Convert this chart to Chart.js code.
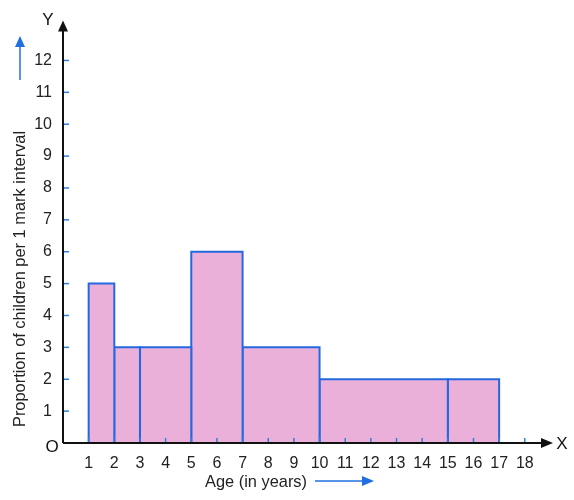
<!DOCTYPE html>
<html>
<head>
<meta charset="utf-8">
<script src="https://cdn.jsdelivr.net/npm/chart.js@4"></script>
<style>
  html, body { margin: 0; padding: 0; background: #fff; }
  #wrap { width: 574px; height: 500px; }
</style>
</head>
<body>
<div id="wrap"><canvas id="mychart"></canvas></div>
<script>
// class intervals (age in years) and heights (proportion per 1 mark interval)
const lowerEdges = [1, 2, 3, 5, 7, 10, 15];
const upperEdges = [2, 3, 5, 7, 10, 15, 17];
const heights = [5, 3, 3, 6, 3, 2, 2];
const xTickLabels = [1, 2, 3, 4, 5, 6, 7, 8, 9, 10, 11, 12, 13, 14, 15, 16, 17, 18];
const yTickLabels = [1, 2, 3, 4, 5, 6, 7, 8, 9, 10, 11, 12];

const fillColor = "#ebb0da";
const edgeColor = "#2468e0";
const tickBlue = "#2f80d8";
const font = "'Liberation Sans', Arial, sans-serif";

const datasets = lowerEdges.map((lo, i) => ({
  data: [
    { x: lo, y: 0 },
    { x: lo, y: heights[i] },
    { x: upperEdges[i], y: heights[i] },
    { x: upperEdges[i], y: 0 },
  ],
  tension: 0,
  fill: "origin",
  backgroundColor: fillColor,
  borderColor: edgeColor,
  borderWidth: 2,
  pointRadius: 0,
}));

function arrowHead(ctx, x, y, dir, len, half) {
  ctx.beginPath();
  if (dir === "up") {
    ctx.moveTo(x, y);
    ctx.lineTo(x - half, y + len);
    ctx.lineTo(x + half, y + len);
  } else {
    ctx.moveTo(x, y);
    ctx.lineTo(x - len, y - half);
    ctx.lineTo(x - len, y + half);
  }
  ctx.closePath();
  ctx.fill();
}

const axesPlugin = {
  id: "axesPlugin",
  afterDatasetsDraw(chart) {
    const ctx = chart.ctx;
    const xs = chart.scales.x;
    const ys = chart.scales.y;
    const area = chart.chartArea;
    const x0 = xs.getPixelForValue(0);
    const y0 = ys.getPixelForValue(0);
    ctx.save();

    // blue tick marks inside the axes
    ctx.strokeStyle = tickBlue;
    ctx.lineWidth = 1.5;
    xTickLabels.forEach((v) => {
      const px = xs.getPixelForValue(v);
      ctx.beginPath();
      ctx.moveTo(px, y0);
      ctx.lineTo(px, y0 - 5);
      ctx.stroke();
    });
    yTickLabels.forEach((v) => {
      const py = ys.getPixelForValue(v);
      ctx.beginPath();
      ctx.moveTo(x0, py);
      ctx.lineTo(x0 + 6, py);
      ctx.stroke();
    });

    // black axes with arrows
    ctx.strokeStyle = "#111";
    ctx.fillStyle = "#111";
    ctx.lineWidth = 2;
    ctx.beginPath();
    ctx.moveTo(x0, y0);
    ctx.lineTo(area.right - 8, y0);
    ctx.moveTo(x0, y0);
    ctx.lineTo(x0, area.top + 8);
    ctx.stroke();
    arrowHead(ctx, area.right, y0, "right", 12, 5);
    arrowHead(ctx, x0, area.top, "up", 11, 5);

    // axis letters and origin
    ctx.font = "17px " + font;
    ctx.textAlign = "center";
    ctx.textBaseline = "middle";
    ctx.fillText("X", area.right + 9, y0 + 1);
    ctx.fillText("Y", x0 - 15, area.top);
    ctx.fillText("O", x0 - 11, y0 + 4);

    // axis titles
    ctx.fillStyle = "#222";
    ctx.font = "16.4px " + font;
    ctx.fillText("Age (in years)", 256, 482);
    ctx.save();
    ctx.translate(20, 279);
    ctx.rotate(-Math.PI / 2);
    ctx.fillText("Proportion of children per 1 mark interval", 0, 0);
    ctx.restore();

    // blue direction arrows next to titles
    ctx.strokeStyle = "#1f6fe0";
    ctx.fillStyle = "#1f6fe0";
    ctx.lineWidth = 1.5;
    ctx.beginPath();
    ctx.moveTo(315, 481);
    ctx.lineTo(363, 481);
    ctx.stroke();
    arrowHead(ctx, 374, 481, "right", 12, 5);
    ctx.beginPath();
    ctx.moveTo(20, 80);
    ctx.lineTo(20, 46);
    ctx.stroke();
    arrowHead(ctx, 20, 36, "up", 11, 5);

    ctx.restore();
  },
};

const config = {
  type: "line",
  data: { datasets: datasets },
  options: {
    responsive: true,
    maintainAspectRatio: false,
    animation: false,
    layout: { padding: { top: 18, right: 21, left: 0, bottom: 0 } },
    plugins: { legend: { display: false }, tooltip: { enabled: false } },
    scales: {
      x: {
        type: "linear",
        min: 0,
        max: 19.1,
        grid: { display: false, drawTicks: false },
        border: { display: false },
        afterFit(scale) { scale.height = 57; },
        ticks: {
          stepSize: 1,
          autoSkip: false,
          maxRotation: 0,
          padding: 11,
          color: "#222",
          font: { size: 16, family: font },
          callback: (v) => (xTickLabels.includes(v) ? String(v) : null),
        },
      },
      y: {
        min: 0,
        max: 13.25,
        grid: { display: false, drawTicks: false },
        border: { display: false },
        afterFit(scale) { scale.width = 63; },
        ticks: {
          stepSize: 1,
          autoSkip: false,
          padding: 11,
          color: "#222",
          font: { size: 16, family: font },
          callback: (v) => (yTickLabels.includes(v) ? String(v) : null),
        },
      },
    },
  },
  plugins: [axesPlugin],
};

const mychart = new Chart(document.getElementById("mychart"), config);
</script>
</body>
</html>
